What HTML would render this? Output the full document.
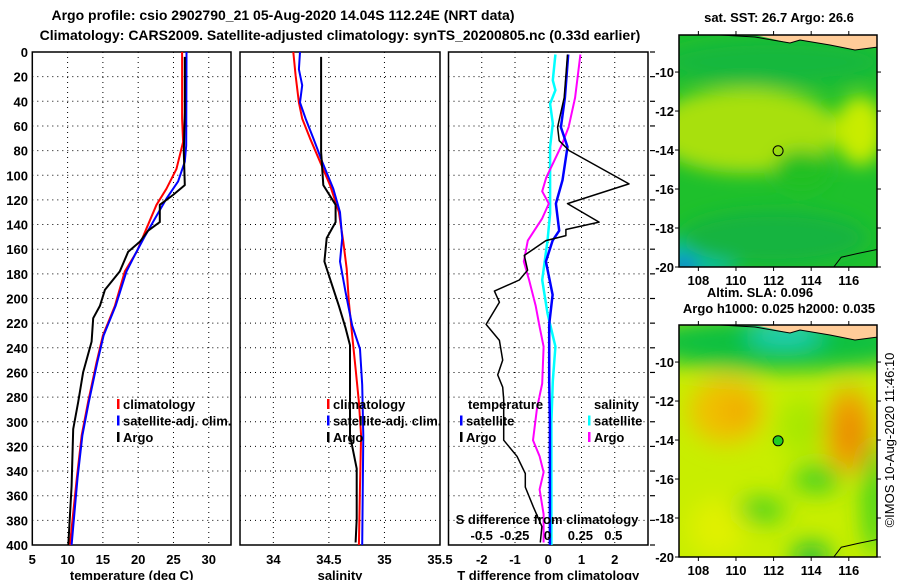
<!DOCTYPE html>
<html><head><meta charset="utf-8"><style>
html,body{margin:0;padding:0;background:#fff;}
svg{display:block;font-family:"Liberation Sans",Arial,sans-serif;font-weight:bold;}
</style></head><body>
<svg id="c" width="900" height="580" viewBox="0 0 900 580" xmlns="http://www.w3.org/2000/svg">
<defs>
<filter id="bl1" x="-20%" y="-20%" width="140%" height="140%"><feGaussianBlur stdDeviation="9"/></filter>
<filter id="bl2" x="-20%" y="-20%" width="140%" height="140%"><feGaussianBlur stdDeviation="12"/></filter>
<clipPath id="m1c"><rect x="679" y="35" width="198" height="232"/></clipPath>
<clipPath id="m2c"><rect x="679" y="325" width="198" height="232"/></clipPath>
</defs>
<text x="283" y="20" font-size="14" text-anchor="middle">Argo profile: csio 2902790_21 05-Aug-2020 14.04S 112.24E (NRT data)</text>
<text x="340" y="40" font-size="14" text-anchor="middle">Climatology: CARS2009. Satellite-adjusted climatology: synTS_20200805.nc (0.33d earlier)</text>
<g id="plots"></g>
<g id="maps"></g>
</svg>
<script>
// ---- data (depth in m) ----
const tClimD=[0,54,73,95,111,124,143,162,178,206,230,252,284,311,346,400];
const tClimV=[26.22,26.22,26.36,25.42,24.0,22.6,21.2,19.8,18.1,16.7,15.0,14.1,12.9,12.0,11.3,10.33];
const tSatD=[0,76,89,105,119,133,150,165,178,206,230,252,284,311,346,400];
const tSatV=[26.84,26.8,26.6,25.65,24.0,22.6,20.9,19.5,18.35,16.8,15.1,14.2,13.0,12.1,11.4,10.57];
const tArgoD=[4,49,81,108,116,124,138,145,154,162,178,193,206,216,235,260,284,306,352,400];
const tArgoV=[26.6,26.6,26.46,26.6,24.94,23.06,23.06,21.4,20.23,18.58,17.4,15.28,14.58,13.63,13.4,12.2,11.5,10.8,10.57,10.1];
const sClimD=[0,19,41,54,70,89,108,130,154,176,203,230,257,284,311,352,400];
const sClimV=[34.18,34.2,34.23,34.26,34.33,34.42,34.51,34.59,34.63,34.66,34.68,34.71,34.74,34.77,34.79,34.78,34.77];
const sSatD=[0,14,27,41,54,70,89,111,130,151,170,195,222,241,270,311,400];
const sSatV=[34.24,34.23,34.26,34.24,34.29,34.36,34.44,34.54,34.6,34.62,34.6,34.65,34.71,34.78,34.8,34.81,34.8];
const sArgoD=[4,81,108,124,138,151,170,184,206,224,238,270,311,338,379,398];
const sArgoV=[34.43,34.43,34.45,34.56,34.56,34.48,34.46,34.51,34.59,34.65,34.69,34.69,34.69,34.75,34.75,34.74];
const dtArgoD=[2,37,61,72,80,107,123,138,144,149,153,165,177,185,194,203,221,234,250,262,272,282,315,328,342,353,369,385,398];
const dtArgoV=[0.58,0.48,0.28,0.33,0.63,2.43,0.58,1.53,0.53,0.53,-0.07,-0.72,-0.62,-0.87,-1.62,-1.47,-1.87,-1.47,-1.37,-1.52,-1.37,-1.34,-1.34,-0.94,-0.69,-0.69,-0.45,-0.19,-0.24];
const dtSatD=[2,37,61,77,104,123,145,153,170,197,221,267,300,400];
const dtSatV=[0.6,0.5,0.38,0.58,0.43,0.23,0.33,0.13,-0.07,0.13,0.03,0.03,0.05,0.05];
const dsArgoD=[2,37,61,75,102,113,123,135,153,170,185,206,223,239,269,289,315,328,341,355,375,398];
const dsArgoV=[0.25,0.21,0.16,0.11,-0.01,-0.04,0.01,-0.04,-0.15,-0.18,-0.14,-0.09,-0.06,-0.03,-0.04,-0.08,-0.11,-0.06,-0.03,-0.06,-0.03,-0.03];
const dsSatD=[2,23,31,42,58,77,131,153,185,212,239,267,300,400];
const dsSatV=[0.06,0.04,0.06,0.02,0.04,0.02,0.02,0.0,-0.04,0.0,0.06,0.04,0.03,0.03];
const depthTicks=[0,20,40,60,80,100,120,140,160,180,200,220,240,260,280,300,320,340,360,380,400];
const tTicks=[5,10,15,20,25,30];
const sTicks=[34,34.5,35,35.5];
const dtTicks=[-2,-1,0,1,2];
const dsTicks=[-0.5,-0.25,0,0.25,0.5];
const lonTicks=[108,110,112,114,116];
const latTicks=[-10,-12,-14,-16,-18,-20];

const NS='http://www.w3.org/2000/svg';
function mk(tag,attrs,parent,txt){const e=document.createElementNS(NS,tag);for(const k in attrs)e.setAttribute(k,attrs[k]);if(txt!==undefined)e.textContent=txt;parent.appendChild(e);return e;}
const Y0=52,Y1=545;
const yD=d=>Y0+(d/400)*(Y1-Y0);
function lin(d0,d1,r0,r1){return v=>r0+(v-d0)/(d1-d0)*(r1-r0);}
const P=[{x0:32.3,x1:231},{x0:240,x1:440},{x0:448.5,x1:648}];
const xT=lin(5,33.15,32.3,231), xS=lin(33.7,35.5,240,440), xDT=lin(-3,3,448.5,648), xDS=lin(-0.76,0.76,447.5,647.5);
const G=document.getElementById('plots');

function line(xf,ds,vs,color,w,name){
  const pts=ds.map((d,i)=>xf(vs[i]).toFixed(1)+','+yD(d).toFixed(1)).join(' ');
  const e=mk('polyline',{points:pts,fill:'none',stroke:color,'stroke-width':w,'stroke-linejoin':'round'},G);
  
  
}
function panel(i,xf,ticks,labelTxt,name){
  const p=P[i];
  const g=mk('g',{},G);
  
  
  depthTicks.forEach(d=>{if(d>0&&d<400)mk('line',{x1:p.x0,x2:p.x1,y1:yD(d),y2:yD(d),stroke:'#000','stroke-width':1,'stroke-dasharray':'1 4'},g);});
  ticks.forEach(t=>{const x=xf(t);if(x>p.x0+1&&x<p.x1-1)mk('line',{x1:x,x2:x,y1:Y0,y2:Y1,stroke:'#000','stroke-width':1,'stroke-dasharray':'1 4'},g);});
  mk('rect',{x:p.x0,y:Y0,width:p.x1-p.x0,height:Y1-Y0,fill:'none',stroke:'#000','stroke-width':1.5},g);
  if(i<2){ticks.forEach(t=>{const e=mk('text',{x:xf(t),y:564,'font-size':13,'text-anchor':'middle'},g,String(t));});}
  const xl=mk('text',{x:(p.x0+p.x1)/2,y:580,'font-size':13,'text-anchor':'middle'},g,labelTxt);
  
  
}
panel(0,xT,tTicks,'temperature (deg C)','temperature-panel');
panel(1,xS,sTicks,'salinity','salinity-panel');
panel(2,xDT,dtTicks,'T difference from climatology','difference-panel');
dtTicks.forEach(t=>{const e=mk('text',{x:xDT(t),y:564,'font-size':13,'text-anchor':'middle'},G,String(t));});
depthTicks.forEach(d=>{
  const e=mk('text',{x:28,y:yD(d)+5,'font-size':13,'text-anchor':'end'},G,String(d));
  
  
  mk('line',{x1:650,x2:655,y1:yD(d),y2:yD(d),stroke:'#000','stroke-width':1.2},G);
});
line(xT,tClimD,tClimV,'#f00',2,'temp-climatology-line');
line(xT,tSatD,tSatV,'#00f',2,'temp-satellite-line');
line(xT,tArgoD,tArgoV,'#000',2,'temp-argo-line');
line(xS,sClimD,sClimV,'#f00',2,'sal-climatology-line');
line(xS,sSatD,sSatV,'#00f',2,'sal-satellite-line');
line(xS,sArgoD,sArgoV,'#000',2,'sal-argo-line');
line(xDS,dsSatD,dsSatV,'#0ff',2.5,'ds-satellite-line');
line(xDS,dsArgoD,dsArgoV,'#f0f',2,'ds-argo-line');
line(xDT,dtSatD,dtSatV,'#00f',2.5,'dt-satellite-line');
line(xDT,dtArgoD,dtArgoV,'#000',1.5,'dt-argo-line');

function legend(x,items,name){
  const g=mk('g',{},G);
  
  
  items.forEach((it,i)=>{const y=407+i*16.5;
    if(!it[1])return;
    mk('rect',{x:x,y:y-8,width:2.5,height:10,fill:it[1]},g);
    mk('text',{x:x+6,y:y+2,'font-size':13},g,it[0]);});
}
legend(117,[['climatology','#f00'],['satellite-adj. clim.','#00f'],['Argo','#000']],'temperature-legend');
legend(327,[['climatology','#f00'],['satellite-adj. clim.','#00f'],['Argo','#000']],'salinity-legend');
mk('text',{x:468,y:409,'font-size':13},G,'temperature');
mk('text',{x:594,y:409,'font-size':13},G,'salinity');
legend(460,[['',''],['satellite','#00f'],['Argo','#000']],'dt-legend');
legend(588,[['',''],['satellite','#0ff'],['Argo','#f0f']],'ds-legend');
mk('text',{x:547,y:524,'font-size':13,'text-anchor':'middle'},G,'S difference from climatology');
dsTicks.forEach(t=>{const e=mk('text',{x:xDS(t),y:540,'font-size':13,'text-anchor':'middle'},G,String(t));});

// ---- maps ----
const M=document.getElementById('maps');
const lonX=lin(106.97,117.5,679,877);
function map(top,clip,blobs,base,title,name,filt){
  const lat2y=lin(-8.1,-20,top,top+232);
  const g=mk('g',{'clip-path':'url(#'+clip+')'},M);
  
  
  mk('rect',{x:679,y:top,width:198,height:232,fill:base},g);
  const bg=mk('g',{filter:'url(#'+filt+')'},g);
  blobs.forEach(b=>mk('ellipse',{cx:lonX(b[0]),cy:lat2y(b[1]),rx:b[2]*18.8,ry:b[3]*19.4,fill:b[4]},bg));
  mk('polygon',{points:`720,${top} 755,${top} 790,${top+8} 800,${top+5} 830,${top+10} 855,${top+15} 878,${top+12} 878,${top} `,fill:'#fc9'},g);
  mk('polyline',{points:`720,${top} 755,${top+2} 790,${top+8} 800,${top+5} 830,${top+10} 855,${top+15} 878,${top+12}`,fill:'none',stroke:'#000','stroke-width':1},g);
  mk('polyline',{points:`${lonX(115.2)},${top+232} ${lonX(115.6)},${lat2y(-19.5)} ${lonX(116.5)},${lat2y(-19.3)} ${lonX(117.5)},${lat2y(-19.1)}`,fill:'none',stroke:'#000','stroke-width':1},g);
  mk('rect',{x:679,y:top,width:198,height:232,fill:'none',stroke:'#000','stroke-width':1.5},M);
  lonTicks.forEach(l=>{const x=lonX(l);mk('line',{x1:x,x2:x,y1:top-4,y2:top,stroke:'#000'},M);mk('line',{x1:x,x2:x,y1:top+232,y2:top+236,stroke:'#000'},M);
    const e=mk('text',{x:x,y:top+250,'font-size':13,'text-anchor':'middle'},M,String(l));});
  latTicks.forEach(l=>{const y=lat2y(l);mk('line',{x1:675,x2:679,y1:y,y2:y,stroke:'#000'},M);mk('line',{x1:877,x2:881,y1:y,y2:y,stroke:'#000'},M);
    const e=mk('text',{x:674,y:y+5,'font-size':13,'text-anchor':'end'},M,String(l));});
  const dot=mk('circle',{cx:lonX(112.24),cy:lat2y(-14.04),r:5,fill:title?'#2c2':'none',stroke:'#000','stroke-width':1},M);
  
  
}
map(35,'m1c',[[110.5,-13,5,2.2,'#a8e010'],[116.6,-13,1.3,1.8,'#c8ec00'],[112,-9.5,6,1.2,'#14b83c'],[113.5,-15,1.5,1,'#22c020'],[108,-19.5,2.2,1.2,'#10c0a0'],[107.2,-20,0.7,0.5,'#1070e0'],[112,-18.5,5,1.4,'#14b440']],'#1ec02c','','sst-map','bl1');
map(325,'m2c',[[112.5,-9,8,1.5,'#10c040'],[112.6,-8.6,2,0.6,'#20d0c0'],[109.5,-12.5,2,1.7,'#f0c000'],[110.1,-12.5,0.8,0.7,'#f0a800'],[116,-13.5,1.3,2.2,'#f0a000'],[116.1,-13.6,0.6,1,'#e88800'],[113.5,-13.3,1.3,1.5,'#a8e800'],[114.3,-16,1.3,0.7,'#40d020'],[111.2,-17.6,1.5,0.6,'#40d020'],[114,-20,1,0.7,'#10b840'],[117.4,-17,0.6,3,'#30d020'],[109,-18.5,1.5,1.5,'#e0f000']],'#c8ee00','1','sla-map','bl2');
mk('text',{x:779,y:22,'font-size':13,'text-anchor':'middle'},M,'sat. SST: 26.7 Argo: 26.6');
mk('text',{x:760,y:297,'font-size':13,'text-anchor':'middle'},M,'Altim. SLA: 0.096');
mk('text',{x:779,y:313,'font-size':13,'text-anchor':'middle'},M,'Argo h1000: 0.025 h2000: 0.035');
mk('text',{x:0,y:0,'font-size':13,'font-weight':'normal','text-anchor':'middle',transform:'translate(894,440) rotate(-90)'},M,'©IMOS 10-Aug-2020 11:46:10');
</script>
</body></html>
